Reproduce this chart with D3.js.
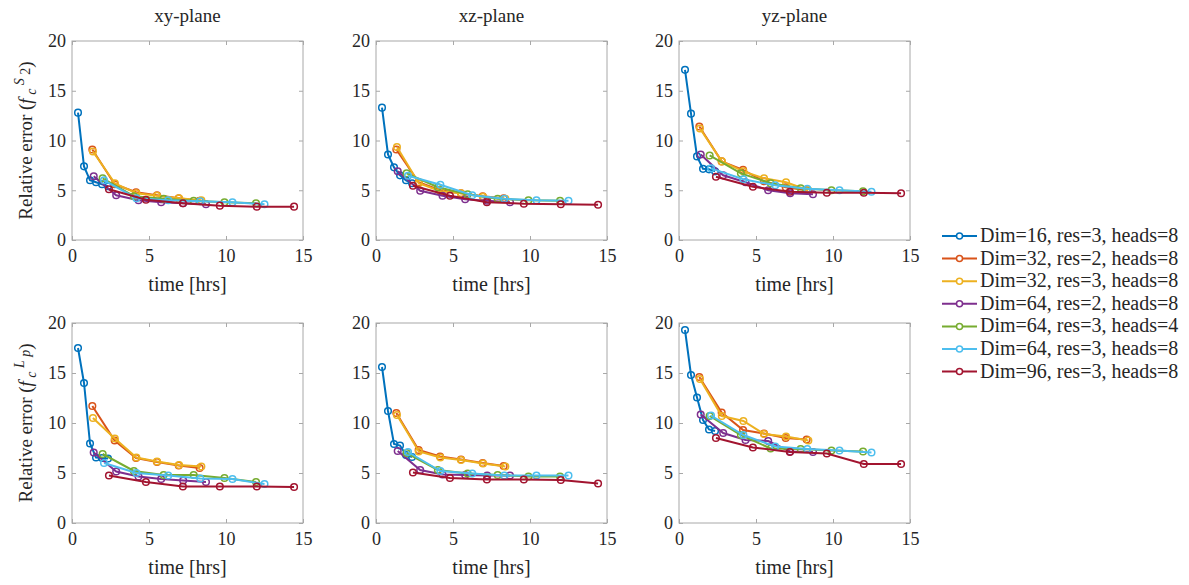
<!DOCTYPE html>
<html>
<head>
<meta charset="utf-8">
<script src="https://cdn.jsdelivr.net/npm/d3@7"></script>
<style>
  body { margin: 0; background: #fff; }
  svg text { font-family: "Liberation Serif", "Times New Roman", "DejaVu Serif", serif !important; fill: #262626; }
</style>
</head>
<body>
<script>
const configs = [
  "Dim=16, res=3, heads=8",
  "Dim=32, res=2, heads=8",
  "Dim=32, res=3, heads=8",
  "Dim=64, res=2, heads=8",
  "Dim=64, res=3, heads=4",
  "Dim=64, res=3, heads=8",
  "Dim=96, res=3, heads=8",
];
const colors = ["#0072BD", "#D95319", "#EDB120", "#7E2F8E", "#77AC30", "#4DBEEE", "#A2142F"];

// training time (hrs) per configuration
const hoursDim16r3h8 = [0.39, 0.78, 1.17, 1.56, 1.95, 2.34];
const hoursDim32r2h8 = [1.32, 2.77, 4.16, 5.52, 6.93, 8.29];
const hoursDim32r3h8 = [1.36, 2.78, 4.18, 5.52, 6.95, 8.40];
const hoursDim64r2h8 = [1.41, 2.87, 4.32, 5.79, 7.22, 8.70];
const hoursDim64r3h4 = [1.99, 4.02, 5.95, 7.90, 9.90, 11.95];
const hoursDim64r3h8 = [2.08, 4.18, 6.25, 8.33, 10.42, 12.50];
const hoursDim96r3h8 = [2.40, 4.80, 7.20, 9.60, 12.00, 14.42];
const hours = [hoursDim16r3h8, hoursDim32r2h8, hoursDim32r3h8, hoursDim64r2h8,
  hoursDim64r3h4, hoursDim64r3h8, hoursDim96r3h8];

// relative error, one row per configuration
const xyS2 = [
  [12.8, 7.4, 6.0, 5.8, 5.6, 5.4],
  [9.1, 5.6, 4.8, 4.5, 4.2, 3.95],
  [8.9, 5.7, 4.7, 4.45, 4.2, 4.0],
  [6.4, 4.5, 4.0, 3.8, 3.7, 3.6],
  [6.2, 4.4, 4.15, 3.95, 3.8, 3.7],
  [6.0, 4.2, 4.0, 3.9, 3.8, 3.6],
  [5.1, 4.05, 3.7, 3.45, 3.35, 3.35],
];
const xzS2 = [
  [13.3, 8.6, 7.3, 6.5, 6.0, 5.7],
  [9.1, 5.8, 5.0, 4.7, 4.4, 4.2],
  [9.35, 5.7, 4.9, 4.7, 4.35, 4.15],
  [6.9, 4.95, 4.45, 4.1, 3.95, 3.8],
  [6.7, 5.3, 4.6, 4.15, 4.0, 3.95],
  [6.45, 5.55, 4.5, 4.15, 4.0, 3.95],
  [5.45, 4.45, 3.8, 3.65, 3.6, 3.55],
];
const yzS2 = [
  [17.1, 12.7, 8.4, 7.15, 7.1, 6.9],
  [11.4, 7.9, 7.05, 5.9, 5.3, 5.0],
  [11.2, 7.9, 6.9, 6.2, 5.8, 5.0],
  [8.6, 6.5, 5.8, 5.0, 4.7, 4.6],
  [8.5, 6.7, 5.7, 5.2, 5.0, 4.9],
  [7.2, 6.1, 5.5, 5.15, 5.0, 4.85],
  [6.35, 5.35, 4.85, 4.75, 4.75, 4.7],
];
const xyLp = [
  [17.5, 14.0, 7.95, 6.55, 6.5, 6.45],
  [11.7, 8.25, 6.5, 6.1, 5.75, 5.5],
  [10.5, 8.45, 6.55, 6.15, 5.8, 5.65],
  [7.05, 5.15, 4.65, 4.4, 4.25, 4.1],
  [6.9, 5.2, 4.8, 4.8, 4.5, 4.1],
  [6.0, 5.0, 4.75, 4.45, 4.4, 3.9],
  [4.75, 4.1, 3.65, 3.65, 3.65, 3.6],
];
const xzLp = [
  [15.6, 11.2, 7.9, 7.75, 6.8, 6.6],
  [11.0, 7.3, 6.65, 6.35, 6.0, 5.7],
  [10.8, 7.15, 6.55, 6.3, 5.95, 5.65],
  [7.2, 5.3, 4.85, 4.8, 4.75, 4.75],
  [7.0, 5.3, 4.95, 4.8, 4.65, 4.65],
  [7.1, 5.2, 4.95, 4.75, 4.75, 4.75],
  [5.05, 4.5, 4.35, 4.35, 4.3, 3.95],
];
const yzLp = [
  [19.3, 14.8, 12.55, 10.3, 9.35, 9.2],
  [14.6, 11.05, 9.3, 8.95, 8.5, 8.35],
  [14.4, 10.7, 10.2, 8.9, 8.65, 8.25],
  [10.85, 9.0, 8.3, 8.2, 7.15, 7.1],
  [10.7, 8.8, 7.45, 7.4, 7.25, 7.15],
  [10.75, 8.8, 7.65, 7.4, 7.25, 7.05],
  [8.5, 7.55, 7.1, 6.95, 5.9, 5.9],
];

const planes = ["xy-plane", "xz-plane", "yz-plane"];
const xTicks = [0, 5, 10, 15];
const yTicks = [0, 5, 10, 15, 20];

const panels = [
  [xyS2, xzS2, yzS2],
  [xyLp, xzLp, yzLp],
];

const FONT = "'Liberation Serif', 'Times New Roman', 'DejaVu Serif', serif";
const COLS = [72, 376, 679];
const WIDTH = 231;
const ROWS = [{ top: 41, h: 199 }, { top: 323, h: 200 }];
const BOX = "#a8a8a8";

const svg = d3.select("body").append("svg")
  .attr("width", 1189).attr("height", 585)
  .attr("font-family", FONT);

svg.append("rect").attr("width", 1189).attr("height", 585).attr("fill", "#fff");

function drawPanel(data, col, row) {
  const x0 = COLS[col];
  const { top, h } = ROWS[row];
  const x = d3.scaleLinear().domain([0, 15]).range([x0, x0 + WIDTH]);
  const y = d3.scaleLinear().domain([0, 20]).range([top + h, top]);
  const g = svg.append("g");

  const styleAxis = (a) => {
    a.attr("font-family", FONT).attr("font-size", 18);
    a.select(".domain").remove();
    a.selectAll("line").attr("stroke", BOX);
    a.selectAll("text").attr("fill", "#262626");
  };

  g.append("g").attr("transform", `translate(0,${top + h})`)
    .call(d3.axisBottom(x).tickValues(xTicks).tickSize(-4).tickPadding(9))
    .call(styleAxis);
  g.append("g").attr("transform", `translate(0,${top})`)
    .call(d3.axisTop(x).tickValues(xTicks).tickSize(-4).tickFormat(""))
    .call(styleAxis);
  g.append("g").attr("transform", `translate(${x0},0)`)
    .call(d3.axisLeft(y).tickValues(yTicks).tickSize(-4).tickPadding(6))
    .call(styleAxis);
  g.append("g").attr("transform", `translate(${x0 + WIDTH},0)`)
    .call(d3.axisRight(y).tickValues(yTicks).tickSize(-4).tickFormat(""))
    .call(styleAxis);

  g.append("rect")
    .attr("x", x0).attr("y", top).attr("width", WIDTH).attr("height", h)
    .attr("fill", "none").attr("stroke", BOX).attr("stroke-width", 1);

  const line = d3.line().x((d) => x(d[0])).y((d) => y(d[1]));

  data.forEach((vals, i) => {
    const pts = hours[i].map((t, k) => [t, vals[k]]);
    const s = g.append("g");
    s.append("path").datum(pts)
      .attr("d", line)
      .attr("fill", "none")
      .attr("stroke", colors[i])
      .attr("stroke-width", 2);
    s.selectAll("circle").data(pts).enter().append("circle")
      .attr("cx", (d) => x(d[0]))
      .attr("cy", (d) => y(d[1]))
      .attr("r", 3.3)
      .attr("fill", "none")
      .attr("stroke", colors[i])
      .attr("stroke-width", 1.5);
  });

  g.append("text")
    .attr("x", x0 + WIDTH / 2)
    .attr("y", top + h + 51)
    .attr("text-anchor", "middle")
    .attr("font-size", "20px")
    .text("time [hrs]");

  if (row === 0) {
    g.append("text")
      .attr("x", x0 + WIDTH / 2)
      .attr("y", 22)
      .attr("text-anchor", "middle")
      .attr("font-size", "19px")
      .text(planes[col]);
  }

  if (col === 0) {
    const sup = row === 0 ? "S" : "L";
    const sub = row === 0 ? "2" : "p";
    const t = g.append("text")
      .attr("transform", `translate(32,${top + h / 2}) rotate(-90)`)
      .attr("text-anchor", "middle")
      .attr("font-size", "19px");
    t.append("tspan").text("Relative error (");
    t.append("tspan").attr("font-style", "italic").text("f");
    t.append("tspan").attr("font-style", "italic").attr("font-size", "14px").attr("dy", 4).text(" c");
    t.append("tspan").attr("font-style", "italic").attr("font-size", "14px").attr("dy", -12).text(" " + sup);
    t.append("tspan").attr("font-style", sub === "p" ? "italic" : "normal").attr("font-size", "14px").attr("dy", 6).text(" " + sub);
    t.append("tspan").attr("dy", 2).text(")");
  }
}

panels.forEach((rowData, r) => rowData.forEach((d, c) => drawPanel(d, c, r)));

// legend
const legend = svg.append("g").attr("transform", "translate(942,236)");
configs.forEach((name, i) => {
  const gy = i * 22.6;
  legend.append("line")
    .attr("x1", 0).attr("x2", 35).attr("y1", gy).attr("y2", gy)
    .attr("stroke", colors[i]).attr("stroke-width", 2);
  legend.append("circle")
    .attr("cx", 17.5).attr("cy", gy).attr("r", 3)
    .attr("fill", "#fff").attr("stroke", colors[i]).attr("stroke-width", 1.5);
  legend.append("text")
    .attr("x", 38).attr("y", gy + 6)
    .attr("font-size", "20px")
    .text(name);
});
</script>
</body>
</html>
